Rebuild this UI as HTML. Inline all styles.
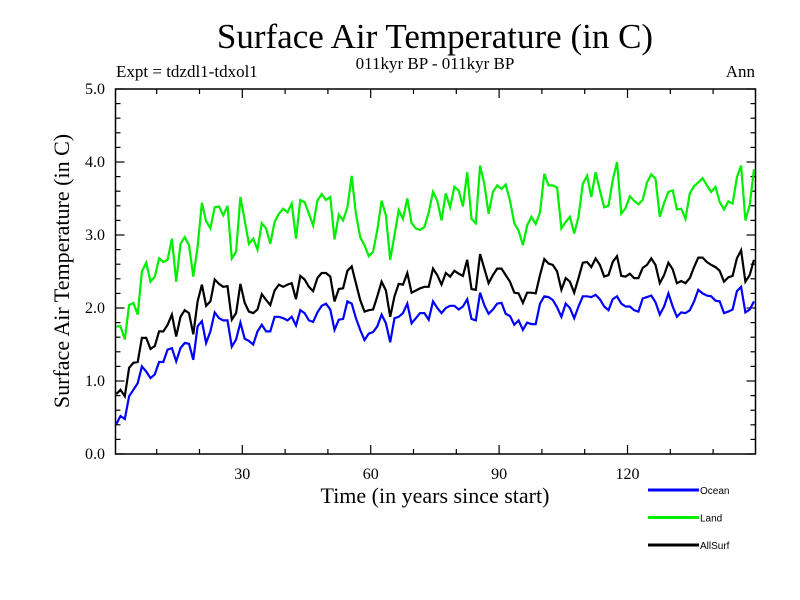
<!DOCTYPE html>
<html><head><meta charset="utf-8"><style>
html,body{margin:0;padding:0;background:#fff;}
svg{display:block;}
text{font-family:"Liberation Serif",serif;fill:#000;}
.leg{font-family:"Liberation Sans",sans-serif;font-size:10px;}
</style></head><body>
<svg id="chart" width="800" height="600" viewBox="0 0 800 600" xmlns="http://www.w3.org/2000/svg">
<rect width="800" height="600" fill="#fff"/>
<text x="435" y="48" font-size="35" text-anchor="middle">Surface Air Temperature (in C)</text>
<text x="435" y="69" font-size="17" text-anchor="middle">011kyr BP - 011kyr BP</text>
<text x="116" y="77" font-size="17">Expt = tdzdl1-tdxol1</text>
<text x="755" y="77" font-size="17" text-anchor="end">Ann</text>
<text x="435" y="503" font-size="22" text-anchor="middle">Time (in years since start)</text>
<text transform="translate(69,271) rotate(-90)" font-size="22" text-anchor="middle">Surface Air Temperature (in C)</text>
<g id="axes"></g>
<g id="series"></g>
<g id="legend"></g>
</svg>
<script>
const xTicksMajor = [30, 60, 90, 120];
const xTickLabels = ["30", "60", "90", "120"];
const yTicksMajor = [0, 1, 2, 3, 4, 5];
const yTickLabels = ["0.0", "1.0", "2.0", "3.0", "4.0", "5.0"];
const seriesNames = ["Ocean", "Land", "AllSurf"];
const seriesColors = ["#0000ff", "#00ee00", "#000000"];
const ocean = [0.41,0.52,0.48,0.79,0.88,0.97,1.20,1.13,1.04,1.09,1.26,1.26,1.43,1.45,1.27,1.45,1.52,1.51,1.29,1.75,1.82,1.52,1.68,1.94,1.86,1.83,1.83,1.47,1.57,1.80,1.58,1.55,1.50,1.68,1.77,1.68,1.68,1.88,1.88,
1.86,1.83,1.88,1.76,1.97,1.93,1.83,1.81,1.94,2.03,2.06,1.98,1.70,1.84,1.85,2.09,2.06,1.86,1.70,1.56,1.65,1.67,1.75,1.91,1.79,1.53,1.86,1.88,1.93,2.06,1.79,1.86,1.93,1.93,1.84,2.09,2.00,1.93,
2.00,2.03,2.03,1.98,2.02,2.12,1.85,1.83,2.21,2.04,1.92,1.98,2.06,2.07,1.92,1.89,1.77,1.83,1.70,1.80,1.78,1.78,2.06,2.16,2.15,2.11,2.01,1.88,2.06,2.00,1.86,2.02,2.16,2.16,2.15,2.18,2.12,2.02,1.97,
2.12,2.16,2.06,2.02,2.02,1.97,1.95,2.13,2.15,2.17,2.08,1.91,2.02,2.20,2.02,1.88,1.94,1.93,1.97,2.09,2.25,2.20,2.17,2.16,2.10,2.09,1.93,1.95,1.98,2.23,2.29,1.94,1.98,2.09];
const land = [1.75,1.75,1.57,2.04,2.07,1.91,2.50,2.62,2.36,2.43,2.68,2.63,2.66,2.95,2.36,2.88,2.97,2.86,2.43,2.84,3.44,3.19,3.09,3.38,3.39,3.27,3.40,2.68,2.77,3.52,3.20,2.88,2.95,2.80,3.16,3.09,2.88,3.18,3.29,
3.36,3.31,3.43,2.95,3.48,3.45,3.29,3.13,3.47,3.56,3.48,3.52,2.94,3.28,3.20,3.38,3.81,3.29,2.97,2.86,2.71,2.77,3.07,3.47,3.27,2.66,3.00,3.34,3.22,3.50,3.16,3.09,3.07,3.11,3.31,3.59,3.47,3.20,
3.57,3.38,3.66,3.61,3.39,3.86,3.22,3.16,3.95,3.70,3.29,3.59,3.68,3.63,3.69,3.47,3.16,3.06,2.86,3.13,3.25,3.15,3.31,3.84,3.68,3.68,3.65,3.09,3.18,3.25,3.02,3.25,3.70,3.81,3.52,3.86,3.61,3.38,3.40,
3.75,4.00,3.29,3.37,3.53,3.47,3.42,3.48,3.72,3.83,3.77,3.25,3.44,3.59,3.61,3.35,3.36,3.22,3.57,3.67,3.72,3.78,3.68,3.59,3.66,3.45,3.35,3.46,3.43,3.79,3.95,3.20,3.41,3.90];
const allsurf = [0.82,0.88,0.79,1.18,1.25,1.26,1.59,1.59,1.44,1.48,1.68,1.68,1.77,1.91,1.61,1.88,1.97,1.93,1.64,2.09,2.32,2.03,2.09,2.39,2.33,2.29,2.30,1.84,1.93,2.33,2.07,1.95,1.93,1.98,2.19,2.11,2.04,2.24,2.32,
2.29,2.32,2.34,2.12,2.44,2.39,2.29,2.23,2.41,2.48,2.48,2.43,2.09,2.26,2.27,2.51,2.57,2.34,2.11,1.95,1.97,1.98,2.16,2.36,2.24,1.88,2.16,2.33,2.32,2.48,2.21,2.24,2.27,2.29,2.29,2.54,2.45,2.32,
2.48,2.43,2.51,2.47,2.44,2.66,2.26,2.25,2.74,2.54,2.34,2.45,2.54,2.54,2.45,2.36,2.21,2.20,2.07,2.21,2.21,2.20,2.45,2.67,2.61,2.59,2.50,2.25,2.41,2.36,2.21,2.41,2.62,2.63,2.56,2.68,2.59,2.43,2.45,
2.63,2.71,2.44,2.43,2.47,2.41,2.41,2.55,2.59,2.68,2.59,2.34,2.45,2.62,2.53,2.34,2.37,2.34,2.41,2.56,2.69,2.69,2.63,2.59,2.56,2.51,2.36,2.42,2.44,2.68,2.79,2.36,2.45,2.66];

const NS = "http://www.w3.org/2000/svg";
const L = 115.5, R = 755.5, T = 89, B = 454;
function xScale(t){ return 113.9 + 4.28 * t; }
function yScale(v){ return B - (v / 5) * (B - T); }
function mk(tag, attrs, parent){ const e = document.createElementNS(NS, tag); for (const k in attrs) e.setAttribute(k, attrs[k]); parent.appendChild(e); return e; }

const axes = document.getElementById('axes');
const frame = mk('rect', {x:L, y:T, width:R-L, height:B-T, fill:'none', stroke:'#000', 'stroke-width':1.5}, axes);


for (let t = 10; t <= 140; t += 10) {
  const major = xTicksMajor.indexOf(t) >= 0;
  const len = major ? 9 : 5;
  const x = xScale(t);
  const tb = mk('line', {x1:x, x2:x, y1:B, y2:B-len, stroke:'#000', 'stroke-width':1.2}, axes);
  
  
  const tt = mk('line', {x1:x, x2:x, y1:T, y2:T+len, stroke:'#000', 'stroke-width':1.2}, axes);
  
  
}
xTicksMajor.forEach((t, i) => {
  const lb = mk('text', {x:xScale(t), y:479, 'font-size':16, 'text-anchor':'middle'}, axes);
  lb.textContent = xTickLabels[i];
  
  
});
for (let k = 0; k <= 25; k++) {
  const v = k * 0.2;
  const major = k % 5 === 0;
  const len = major ? 9 : 5;
  const y = yScale(v);
  const tl = mk('line', {x1:L, x2:L+len, y1:y, y2:y, stroke:'#000', 'stroke-width':1.2}, axes);
  
  
  const tr = mk('line', {x1:R, x2:R-len, y1:y, y2:y, stroke:'#000', 'stroke-width':1.2}, axes);
  
  
}
yTicksMajor.forEach((v, i) => {
  const lb = mk('text', {x:105, y:yScale(v)+5, 'font-size':16, 'text-anchor':'end'}, axes);
  lb.textContent = yTickLabels[i];
  
  
});

const sg = document.getElementById('series');
const allData = [ocean, land, allsurf];
allData.forEach((arr, s) => {
  const pts = arr.map((v, i) => xScale(i + 1 - 0.45).toFixed(1) + ',' + yScale(v).toFixed(1)).join(' ');
  const pl = mk('polyline', {points:pts, fill:'none', stroke:seriesColors[s], 'stroke-width':2.2, 'stroke-linejoin':'miter'}, sg);
  
  
});

const lg = document.getElementById('legend');
seriesNames.forEach((n, s) => {
  const y = 490 + s * 27.5;
  const ln = mk('line', {x1:648, x2:699, y1:y, y2:y, stroke:seriesColors[s], 'stroke-width':3}, lg);
  
  
  const tx = mk('text', {x:700, y:y+4, class:'leg'}, lg);
  tx.textContent = n;
  
  
});
</script>
</body></html>
